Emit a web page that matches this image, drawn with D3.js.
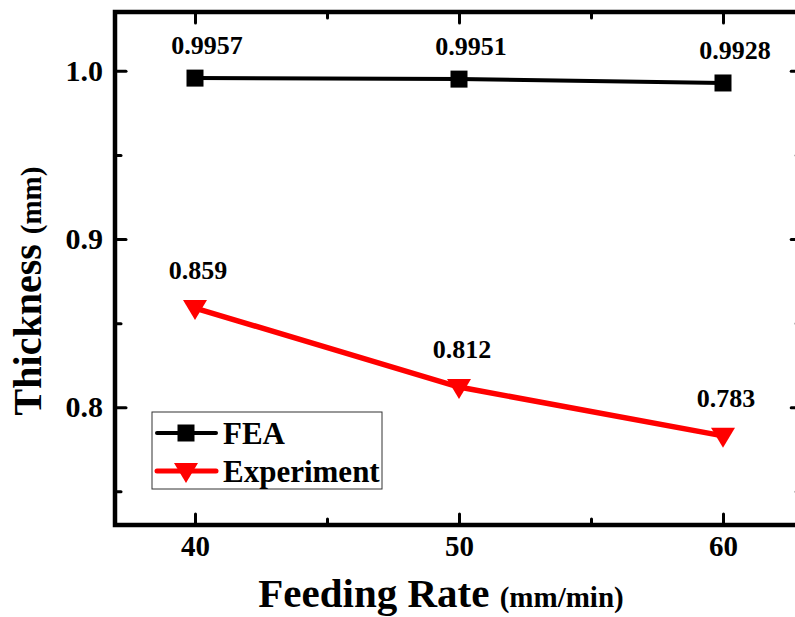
<!DOCTYPE html>
<html>
<head>
<meta charset="utf-8">
<script src="https://cdn.jsdelivr.net/npm/d3@7"></script>
<style>
  body { margin: 0; background: #fff; }
  svg { display: block; font-family: "Liberation Serif", "Times New Roman", serif; font-weight: bold; }
</style>
</head>
<body>
<div id="chart"></div>
<script>
// data
var feedRates = [40, 50, 60];
var feaThickness = [0.9957, 0.9951, 0.9928];
var expThickness = [0.859, 0.812, 0.783];
var feaLabels = ["0.9957", "0.9951", "0.9928"];
var expLabels = ["0.859", "0.812", "0.783"];
var xTicks = [40, 50, 60];
var xMinorTicks = [45, 55];
var yTicks = [0.8, 0.9, 1.0];
var yMinorTicks = [0.75, 0.85, 0.95];
var seriesNames = ["FEA", "Experiment"];

var width = 795, height = 617;
var plot = { left: 115, top: 12, bottom: 525 };

var x = d3.scaleLinear().domain([37, 63]).range([115.8, 802.2]);
var y = d3.scaleLinear().domain([0.73, 1.035]).range([plot.bottom, plot.top]);
var plotRight = x(63);

var svg = d3.select("#chart").append("svg")
  .attr("width", width)
  .attr("height", height);

//axes - ticks point inward, frame drawn separately
function styleAxis(g) {
  g.select(".domain").remove();
  g.selectAll("line")
    .attr("stroke", "#000")
    .attr("stroke-width", 3)
    .attr("stroke-linecap", "round");
  g.selectAll("text")
    .attr("fill", "#000")
    .style("font-family", "'Liberation Serif', serif")
    .style("font-weight", "bold");
}

svg.append("g")
  .attr("transform", "translate(0," + plot.bottom + ")")
  .call(d3.axisBottom(x).tickValues(xTicks).tickSize(-11).tickPadding(10).tickFormat(d3.format("d")))
  .call(styleAxis)
  .selectAll("text").style("font-size", "29px");

svg.append("g")
  .attr("transform", "translate(0," + plot.bottom + ")")
  .call(d3.axisBottom(x).tickValues(xMinorTicks).tickSize(-6).tickFormat(""))
  .call(styleAxis);

svg.append("g")
  .attr("transform", "translate(0," + plot.top + ")")
  .call(d3.axisTop(x).tickValues(xTicks).tickSize(-11).tickFormat(""))
  .call(styleAxis);

svg.append("g")
  .attr("transform", "translate(0," + plot.top + ")")
  .call(d3.axisTop(x).tickValues(xMinorTicks).tickSize(-6).tickFormat(""))
  .call(styleAxis);

svg.append("g")
  .attr("transform", "translate(" + plot.left + ",0)")
  .call(d3.axisLeft(y).tickValues(yTicks).tickSize(-11).tickPadding(12).tickFormat(d3.format(".1f")))
  .call(styleAxis)
  .selectAll("text").style("font-size", "30px");

svg.append("g")
  .attr("transform", "translate(" + plot.left + ",0)")
  .call(d3.axisLeft(y).tickValues(yMinorTicks).tickSize(-6).tickFormat(""))
  .call(styleAxis);

svg.append("g")
  .attr("transform", "translate(" + plotRight + ",0)")
  .call(d3.axisRight(y).tickValues(yTicks).tickSize(-11).tickFormat(""))
  .call(styleAxis);

svg.append("g")
  .attr("transform", "translate(" + plotRight + ",0)")
  .call(d3.axisRight(y).tickValues(yMinorTicks).tickSize(-6).tickFormat(""))
  .call(styleAxis);

//frame
svg.append("rect")
  .attr("x", plot.left)
  .attr("y", plot.top)
  .attr("width", plotRight - plot.left)
  .attr("height", plot.bottom - plot.top)
  .attr("fill", "none")
  .attr("stroke", "#000")
  .attr("stroke-width", 4.5);

var line = d3.line()
  .x(function(d) { return x(d[0]); })
  .y(function(d) { return y(d[1]); });

var triangle = "M-12,-8L12,-8L0,12Z";

function drawSeries(values, labels, color, strokeW, marker, labelDx, labelDy) {
  var pts = feedRates.map(function(r, i) { return [r, values[i]]; });
  var g = svg.append("g");
  g.append("path")
    .datum(pts)
    .attr("d", line)
    .attr("fill", "none")
    .attr("stroke", color)
    .attr("stroke-width", strokeW);
  g.selectAll(".mk")
    .data(pts)
    .enter()
    .append("path")
    .attr("d", marker)
    .attr("fill", color)
    .attr("transform", function(d) { return "translate(" + x(d[0]) + "," + y(d[1]) + ")"; });
  g.selectAll("text")
    .data(pts)
    .enter()
    .append("text")
    .text(function(d, i) { return labels[i]; })
    .attr("x", function(d) { return x(d[0]) + labelDx; })
    .attr("y", function(d) { return y(d[1]) + labelDy; })
    .attr("text-anchor", "middle")
    .style("font-size", "26px");
}

var square = "M-8.5,-8.5H8.5V8.5H-8.5Z";
drawSeries(feaThickness, feaLabels, "#000", 4, square, 12, -24);
drawSeries(expThickness, expLabels, "#ff0000", 5.5, triangle, 3, -29);

//legend
var legend = svg.append("g").attr("id", "legend");
legend.append("rect")
  .attr("x", 152).attr("y", 412)
  .attr("width", 230).attr("height", 77)
  .attr("fill", "#fff")
  .attr("stroke", "#333")
  .attr("stroke-width", 1);

var legendRows = [
  { color: "#000", w: 4, marker: square, cy: 433 },
  { color: "#ff0000", w: 5, marker: triangle, cy: 471 }
];
legendRows.forEach(function(row, i) {
  legend.append("line")
    .attr("x1", 157).attr("x2", 216)
    .attr("y1", row.cy).attr("y2", row.cy)
    .attr("stroke", row.color)
    .attr("stroke-width", row.w)
    .attr("stroke-linecap", "round");
  legend.append("path")
    .attr("d", row.marker)
    .attr("fill", row.color)
    .attr("transform", "translate(186," + row.cy + ")");
  legend.append("text")
    .text(seriesNames[i])
    .attr("x", 223)
    .attr("y", row.cy + 11)
    .style("font-size", "31px");
});

//axis titles
var xTitle = svg.append("text")
  .attr("x", 441)
  .attr("y", 607)
  .attr("text-anchor", "middle");
xTitle.append("tspan").text("Feeding Rate ").style("font-size", "41px");
xTitle.append("tspan").text("(mm/min)").style("font-size", "29px");

var yTitle = svg.append("text")
  .attr("transform", "translate(41,291) rotate(-90)")
  .attr("text-anchor", "middle");
yTitle.append("tspan").text("Thickness ").style("font-size", "40px");
yTitle.append("tspan").text("(mm)").style("font-size", "29px");
</script>
</body>
</html>
